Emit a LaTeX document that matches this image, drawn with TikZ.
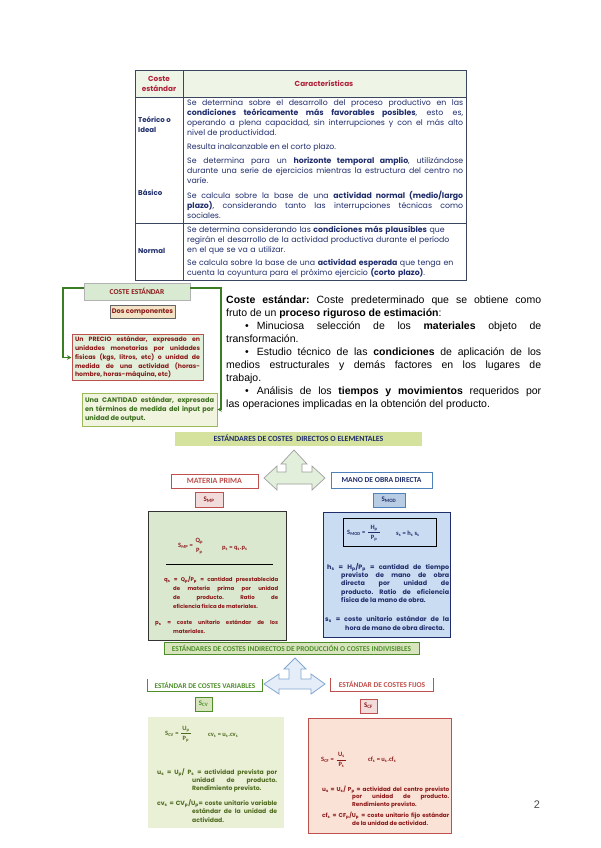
\documentclass[tikz,border=0pt]{standalone}
\usepackage{fontspec}
\usepackage{amsmath}
\setmainfont{Liberation Sans}
\newfontfamily\cfont{Carlito}
\newfontfamily\gfont{Poppins}
\usetikzlibrary{arrows.meta}
\definecolor{navy}{HTML}{1F2D6B}
\definecolor{hred}{HTML}{B0203A}
\definecolor{dred}{HTML}{8B1A1A}
\definecolor{tline}{HTML}{3A4660}
\definecolor{hdrfill}{HTML}{EEF5E6}
\definecolor{cegreen}{HTML}{D9EAD3}
\definecolor{gconn}{HTML}{3A7D22}
\definecolor{lgreen}{HTML}{E2EFDA}
\definecolor{tanc}{HTML}{F2E3C6}
\definecolor{cream}{HTML}{F1F4DE}
\definecolor{oliveB}{HTML}{9BBB59}
\definecolor{dgreen}{HTML}{3C6E1F}
\definecolor{bar1c}{HTML}{D4E29E}
\definecolor{mpred}{HTML}{C0504D}
\definecolor{pinkc}{HTML}{F2DCDB}
\definecolor{blueB}{HTML}{4F81BD}
\definecolor{lblue}{HTML}{C9DCF2}
\definecolor{smodc}{HTML}{B8CCE4}
\definecolor{gboxc}{HTML}{DAE8D0}
\definecolor{bar2c}{HTML}{D7E4BD}
\definecolor{vgreen}{HTML}{4E8F2A}
\definecolor{vboxc}{HTML}{E9F0D6}
\definecolor{fpink}{HTML}{FBE2D6}
\definecolor{vtext}{HTML}{4F6A1F}
\frenchspacing
\tikzset{
  para/.style={anchor=base west, inner sep=0pt, align=justify, text width=#1},
  rpara/.style={anchor=base west, inner sep=0pt, align=left, text width=#1},
  tbltxt/.style={text=navy, font=\gfont\fontsize{7.8}{10}\selectfont},
  tl/.style={draw=tline, line width=0.6pt},
  hdr/.style={text=hred, align=center, font=\gfont\bfseries\fontsize{7.3}{10}\selectfont},
  rowlab/.style={anchor=west, inner sep=0pt, align=left, text=navy, font=\gfont\bfseries\fontsize{7}{10}\selectfont},
  smallbox/.style={rectangle, inner sep=0pt, font=\cfont\bfseries\fontsize{7}{8}\selectfont},
  gconnector/.style={draw=gconn, line width=1.3pt, -{Stealth[length=4.5pt,width=4.5pt]}},
  boxtxt/.style={font=\gfont\bfseries\fontsize{5.4}{9}\selectfont},
  fml/.style={anchor=west, inner sep=0pt, font=\cfont\bfseries\fontsize{6.5}{8}\selectfont},
}
\begin{document}
\begin{tikzpicture}[x=1pt,y=-1pt]
\useasboundingbox (0,0) rectangle (600,848);
\fill[white] (0,0) rectangle (600,848);

% ---------------- table ----------------
\fill[hdrfill] (135,70) rectangle (466,97);
\draw[tl] (135,70) rectangle (466,280);
\draw[tl] (135,97) -- (466,97);
\draw[tl] (183,70) -- (183,280);
\draw[tl] (135,223) -- (466,223);
\node[hdr] (h1) at (159,83.5) {Coste\\estándar};
\node[hdr] (h2) at (324,84) {Características};
\node[rowlab] (r1) at (138,125) {Teórico o\\Ideal};
\node[rowlab] (r2) at (138,193) {Básico};
\node[rowlab] (r3) at (138,251) {Normal};
\node[para=276pt, tbltxt] (p1) at (187,105.5) {Se determina sobre el desarrollo del proceso productivo en las\linebreak \textbf{condiciones teóricamente más favorables posibles}, esto es,\linebreak operando a plena capacidad, sin interrupciones y con el más alto\linebreak nivel de productividad.\par};
\node[para=276pt, tbltxt] (p2) at (187,149.5) {Resulta inalcanzable en el corto plazo.\par};
\node[para=276pt, tbltxt] (p3) at (187,163.5) {Se determina para un \textbf{horizonte temporal amplio}, utilizándose\linebreak durante una serie de ejercicios mientras la estructura del centro no\linebreak varíe.\par};
\node[para=276pt, tbltxt] (p4) at (187,198) {Se calcula sobre la base de una \textbf{actividad normal (medio/largo\linebreak plazo)}, considerando tanto las interrupciones técnicas como\linebreak sociales.\par};
\node[rpara=276pt, tbltxt] (p5) at (187,232) {Se determina considerando las \textbf{condiciones más plausibles} que\\regirán el desarrollo de la actividad productiva durante el período\\en el que se va a utilizar.};
\node[rpara=276pt, tbltxt] (p6) at (187,265.5) {Se calcula sobre la base de una \textbf{actividad esperada} que tenga en\\cuenta la coyuntura para el próximo ejercicio \textbf{(corto plazo)}.};

% ---------------- left diagram ----------------
\node[smallbox, minimum width=106pt, minimum height=17pt, fill=cegreen, draw=gray!60, text=dred, font=\cfont\bfseries\fontsize{7.5}{8}\selectfont] (ce) at (137,291.5) {COSTE ESTÁNDAR};
\node[smallbox, minimum width=65pt, minimum height=13pt, fill=tanc, draw=black!60, text=dred, font=\gfont\bfseries\fontsize{6.6}{8}\selectfont] (dos) at (142.5,312) {Dos componentes};
\node[rectangle, draw=mpred, line width=1pt, fill=lgreen, text width=125pt, align=justify, minimum width=131pt, minimum height=45pt, inner xsep=3pt, inner ysep=2pt, text=dred, font=\gfont\bfseries\fontsize{6.2}{8.8}\selectfont] (precio) at (137.5,357.5) {Un PRECIO estándar, expresado en\linebreak unidades monetarias por unidades\linebreak físicas (kgs, litros, etc) o unidad de\linebreak medida de una actividad (horas-\linebreak hombre, horas-máquina, etc)\par};
\node[rectangle, draw=oliveB, line width=0.8pt, fill=cream, text width=129pt, align=justify, minimum width=135pt, minimum height=33pt, inner xsep=3pt, inner ysep=2pt, text=dgreen, font=\gfont\bfseries\fontsize{6.6}{8.8}\selectfont] (cant) at (149.5,409.5) {Una CANTIDAD estándar, expresada\linebreak en términos de medida del input por\linebreak unidad de output.\par};
\coordinate (lcorner) at (63,357.5);
\coordinate (rcorner) at (221,409.5);
\draw[gconnector] ([yshift=3.5pt]ce.west) -| (lcorner) -- (precio.west);
\draw[gconnector] ([yshift=3.5pt]ce.east) -| (rcorner) -- (cant.east);

% ---------------- right text ----------------
\node[para=315pt, font=\fontsize{10.5}{13}\selectfont] (def) at (226,303.5) {\textbf{Coste estándar:} Coste predeterminado que se obtiene como\linebreak fruto de un \textbf{proceso riguroso de estimación}:\\
\hspace*{19pt}\textbullet\hspace{8pt}Minuciosa selección de los \textbf{materiales} objeto de\linebreak transformación.\\
\hspace*{19pt}\textbullet\hspace{8pt}Estudio técnico de las \textbf{condiciones} de aplicación de los\linebreak medios estructurales y demás factores en los lugares de\linebreak trabajo.\\
\hspace*{19pt}\textbullet\hspace{8pt}Análisis de los \textbf{tiempos y movimientos} requeridos por\linebreak las operaciones implicadas en la obtención del producto.\par};

% ---------------- direct costs ----------------
\node[smallbox, minimum width=247pt, minimum height=14pt, fill=bar1c, text=navy, font=\cfont\bfseries\fontsize{7.9}{8}\selectfont] (bar1) at (298.5,438.5) {ESTÁNDARES DE COSTES\ \ DIRECTOS O ELEMENTALES};
\draw[draw=gray!75, fill=lgreen, line width=0.7pt] (294,450) -- (307,464) -- (302,464) -- (302,472) -- (312,472) -- (312,466) -- (325,478) -- (312,490) -- (312,484) -- (277,484) -- (277,490) -- (264,478) -- (277,466) -- (277,472) -- (286,472) -- (286,464) -- (281,464) -- cycle;
\node[smallbox, minimum width=87pt, minimum height=14pt, draw=mpred, line width=1pt, fill=white, text=mpred, font=\cfont\bfseries\fontsize{8}{8}\selectfont] (mp) at (214.5,481) {MATERIA PRIMA};
\node[smallbox, minimum width=101pt, minimum height=16pt, draw=blueB, line width=1pt, fill=white, text=navy, font=\cfont\bfseries\fontsize{7.6}{8}\selectfont] (mod) at (381.5,480) {MANO DE OBRA DIRECTA};
\node[smallbox, minimum width=28pt, minimum height=15pt, draw=mpred, line width=0.8pt, fill=pinkc, text=dred] (smp) at (209,499.5) {S\textsubscript{MP}};
\node[smallbox, minimum width=32pt, minimum height=14pt, draw=blueB, line width=0.8pt, fill=smodc, text=navy] (smod) at (389,500) {S\textsubscript{MOD}};

% green box
\draw[fill=gboxc, draw=black!80, line width=0.8pt] (148,511) rectangle (286,640);
\node[fml, text=dred] (f1) at (178,546) {S\textsubscript{MP} = $\genfrac{}{}{0pt}{0}{\text{Q\textsubscript{p}}}{\text{P\textsubscript{p}}}$};
\node[fml, text=dred] (f2) at (222,548) {p\textsubscript{s} = q\textsubscript{s}.p\textsubscript{s}};
\draw[black, line width=0.8pt] (166,564) -- (273,564);
\node[para=114pt, boxtxt, text=dred] (t1) at (164,581) {\hangindent=9pt\hangafter=1 q\textsubscript{s} = Q\textsubscript{p}/P\textsubscript{p} = cantidad preestablecida\linebreak de materia prima por unidad\linebreak de producto. Ratio de\linebreak eficiencia física de materiales.\par};
\node[para=123pt, boxtxt, text=dred] (t2) at (155,624) {\hangindent=18pt\hangafter=1 p\textsubscript{s} = coste unitario estándar de los\linebreak materiales.\par};

% blue box
\draw[fill=lblue, draw=navy, line width=0.8pt] (323,512) rectangle (450,637);
\draw[black, line width=0.8pt] (343,518) rectangle (436,546);
\node[fml, text=navy] (f3) at (347,533) {S\textsubscript{MOD} = $\dfrac{\text{\ \,H\textsubscript{p}\ \,}}{\text{P\textsubscript{p}}}$};
\node[fml, text=navy] (f4) at (396,534) {s\textsubscript{s} = h\textsubscript{s} s\textsubscript{s}};
\node[para=122pt, boxtxt, text=navy, font=\gfont\bfseries\fontsize{6.4}{8.4}\selectfont] (t3) at (327,569) {\hangindent=14pt\hangafter=1 h\textsubscript{s} = H\textsubscript{p}/P\textsubscript{p} = cantidad de tiempo\linebreak previsto de mano de obra\linebreak directa por unidad de\linebreak producto. Ratio de eficiencia\linebreak física de la mano de obra.\par};
\node[para=124pt, boxtxt, text=navy, font=\gfont\bfseries\fontsize{6.4}{9.5}\selectfont] (t4) at (325,621) {\hangindent=20pt\hangafter=1 s\textsubscript{s} = coste unitario estándar de la\linebreak hora de mano de obra directa.\par};

% ---------------- indirect costs ----------------
\node[smallbox, minimum width=255pt, minimum height=12pt, fill=bar2c, draw=vgreen, line width=0.8pt, text=vgreen, font=\cfont\bfseries\fontsize{7.4}{8}\selectfont] (bar2) at (291.5,648) {ESTÁNDARES DE COSTES INDIRECTOS DE PRODUCCIÓN O COSTES INDIVISIBLES};
\draw[draw=blueB!70, fill=lblue!50, line width=0.8pt] (295,658) -- (306,669) -- (301,669) -- (301,679) -- (311,679) -- (311,674) -- (325,684) -- (311,694) -- (311,689) -- (279,689) -- (279,694) -- (264,684) -- (279,674) -- (279,679) -- (289,679) -- (289,669) -- (284,669) -- cycle;
\node[smallbox, minimum width=114pt, minimum height=12pt, text=vgreen, font=\cfont\bfseries\fontsize{7.3}{8}\selectfont] (var) at (205,685) {ESTÁNDAR DE COSTES VARIABLES};
\draw[vgreen, line width=0.9pt] (var.north west) -- (var.south west) -- (var.south east) -- (var.north east);
\node[smallbox, minimum width=102pt, minimum height=13pt, text=mpred, font=\cfont\bfseries\fontsize{7.5}{8}\selectfont] (fij) at (382,684.5) {ESTÁNDAR DE COSTES FIJOS};
\draw[mpred, line width=0.9pt] (fij.north west) -- (fij.south west) -- (fij.south east) -- (fij.north east);
\node[smallbox, minimum width=17pt, minimum height=14pt, draw=vgreen, line width=0.8pt, fill=bar2c, text=vgreen] (scv) at (203.5,704) {S\textsubscript{CV}};
\node[smallbox, minimum width=17pt, minimum height=14pt, draw=mpred, line width=0.8pt, fill=pinkc, text=dred] (scf) at (368.5,706) {S\textsubscript{CF}};

% variable box
\fill[vboxc] (148,717) rectangle (284,828);
\node[fml, text=vtext] (f5) at (165,734) {S\textsubscript{CV} = $\dfrac{\text{\,U\textsubscript{p}\,}}{\text{P\textsubscript{p}}}$};
\node[fml, text=vtext] (f6) at (208,735) {cv\textsubscript{s} = u\textsubscript{s}.cv\textsubscript{s}};
\node[para=120pt, boxtxt, text=vtext, font=\gfont\bfseries\fontsize{6.1}{8}\selectfont] (t5) at (157,774) {\hangindent=35pt\hangafter=1 u\textsubscript{s} = U\textsubscript{p}/ P\textsubscript{s} = actividad prevista por\linebreak unidad de producto.\linebreak Rendimiento previsto.\par};
\node[para=120pt, boxtxt, text=vtext, font=\gfont\bfseries\fontsize{6.1}{8.5}\selectfont] (t6) at (157,805) {\hangindent=35pt\hangafter=1 cv\textsubscript{s} = CV\textsubscript{p}/U\textsubscript{p}= coste unitario variable\linebreak estándar de la unidad de\linebreak actividad.\par};

% fixed box
\draw[fill=fpink, draw=mpred, line width=0.8pt] (308,718) rectangle (451,833);
\node[fml, text=dred] (f7) at (321,760) {S\textsubscript{CF} = $\dfrac{\text{\ U\textsubscript{s}\ }}{\text{P\textsubscript{s}}}$};
\node[fml, text=dred] (f8) at (368,760) {cf\textsubscript{s} = u\textsubscript{s}.cf\textsubscript{s}};
\node[para=127pt, boxtxt, text=dred, font=\gfont\bfseries\fontsize{5.7}{7.8}\selectfont] (t7) at (322,791) {\hangindent=30pt\hangafter=1 u\textsubscript{s} = U\textsubscript{s}/ P\textsubscript{p} = actividad del centro previsto\linebreak por unidad de producto.\linebreak Rendimiento previsto.\par};
\node[para=127pt, boxtxt, text=dred, font=\gfont\bfseries\fontsize{5.7}{8}\selectfont] (t8) at (322,817) {\hangindent=30pt\hangafter=1 cf\textsubscript{s} = CF\textsubscript{p}/U\textsubscript{p} = coste unitario fijo estándar\linebreak de la unidad de actividad.\par};

\node[text=black!70, font=\fontsize{11}{13}\selectfont] (pg) at (537,805) {2};
\end{tikzpicture}
\end{document}
